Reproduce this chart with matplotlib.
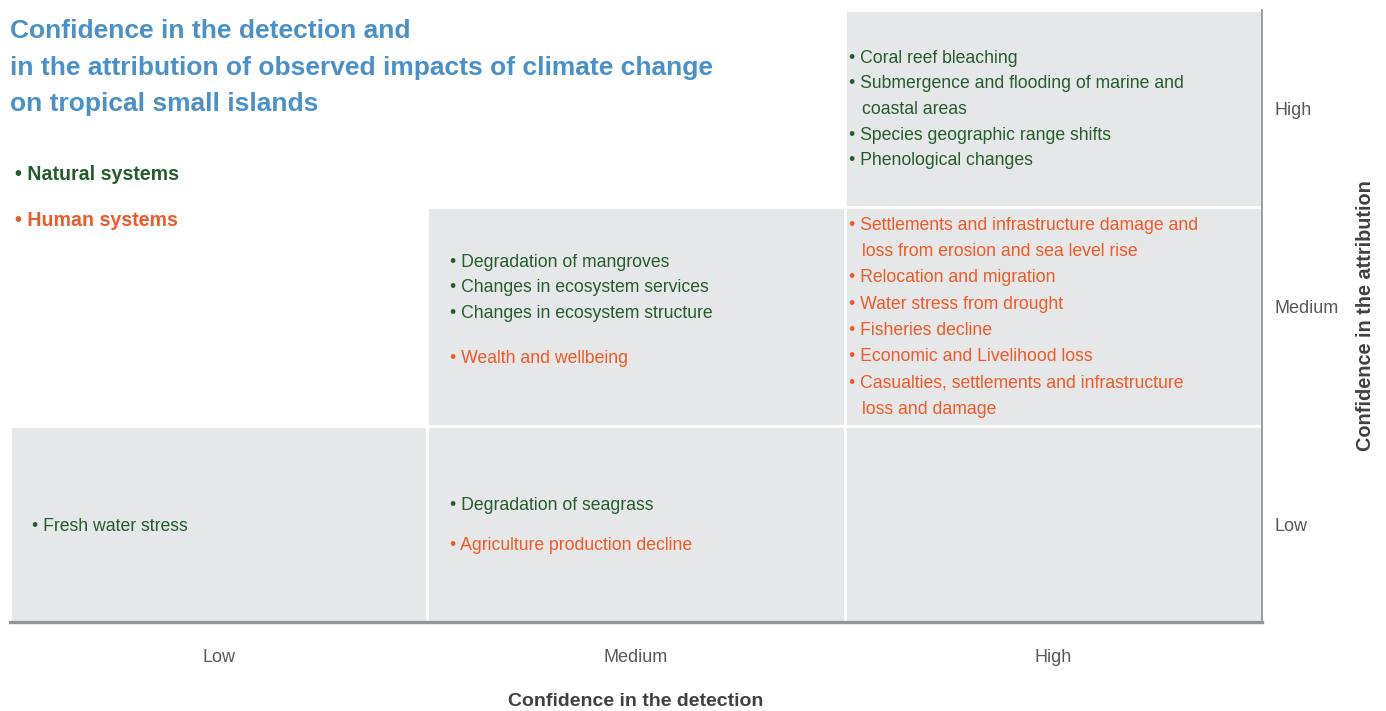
import matplotlib
matplotlib.use("Agg")
import matplotlib.pyplot as plt
from matplotlib.patches import Rectangle

# ---------------- data ----------------
detection_levels = ["Low", "Medium", "High"]
attribution_levels = ["Low", "Medium", "High"]
title_lines = ["Confidence in the detection and",
               "in the attribution of observed impacts of climate change",
               "on tropical small islands"]
x_label = "Confidence in the detection"
y_label = "Confidence in the attribution"
legend_labels = ["Natural systems", "Human systems"]

# cells filled (detection, attribution)
filled_cells = [("High", "High"),
                ("Medium", "Medium"), ("High", "Medium"),
                ("Low", "Low"), ("Medium", "Low"), ("High", "Low")]

# cell items: (lines, system)
cell_items = {
    ("High", "High"): [
        (["Coral reef bleaching"], "natural"),
        (["Submergence and flooding of marine and", "coastal areas"], "natural"),
        (["Species geographic range shifts"], "natural"),
        (["Phenological changes"], "natural"),
    ],
    ("High", "Medium"): [
        (["Settlements and infrastructure damage and", "loss from erosion and sea level rise"], "human"),
        (["Relocation and migration"], "human"),
        (["Water stress from drought"], "human"),
        (["Fisheries decline"], "human"),
        (["Economic and Livelihood loss"], "human"),
        (["Casualties, settlements and infrastructure", "loss and damage"], "human"),
    ],
    ("Medium", "Medium"): [
        (["Degradation of mangroves"], "natural"),
        (["Changes in ecosystem services"], "natural"),
        (["Changes in ecosystem structure"], "natural"),
        (["Wealth and wellbeing"], "human"),
    ],
    ("Medium", "Low"): [
        (["Degradation of seagrass"], "natural"),
        (["Agriculture production decline"], "human"),
    ],
    ("Low", "Low"): [
        (["Fresh water stress"], "natural"),
    ],
}

# ---------------- style / layout ----------------
FONT = ["Liberation Sans Narrow", "Liberation Sans", "DejaVu Sans"]
plt.rcParams["font.family"] = FONT
C_TITLE = "#4A90C9"
C_NAT = "#255C2D"
C_HUM = "#F05A28"
C_CELL = "#E6E7E8"
C_AXIS = "#939598"
C_TICK = "#58595B"
C_LAB = "#414042"
sys_color = {"natural": C_NAT, "human": C_HUM}

W, H = 1386, 711
fig = plt.figure(figsize=(W / 100, H / 100), dpi=100)
ax_l, ax_r, ax_t, ax_b = 10, 1262, 10, 622
ax = fig.add_axes([ax_l / W, 1 - ax_b / H, (ax_r - ax_l) / W, (ax_b - ax_t) / H])
ax.set_xlim(0, 3)
ax.set_ylim(0, 3)
row_edges = [0, 0.96, 2.035, 3.0]   # unequal row heights as in reference
px_per_unit = (ax_b - ax_t) / 3

for d, a in filled_cells:
    i = detection_levels.index(d)
    j = attribution_levels.index(a)
    ax.add_patch(Rectangle((i, row_edges[j]), 1, row_edges[j + 1] - row_edges[j],
                           facecolor=C_CELL, edgecolor="white", linewidth=2.0, zorder=1))

for s in ["top", "left"]:
    ax.spines[s].set_visible(False)
ax.spines["bottom"].set_color(C_AXIS)
ax.spines["bottom"].set_linewidth(2.4)
ax.spines["right"].set_color(C_AXIS)
ax.spines["right"].set_linewidth(1.3)
ax.spines["bottom"].set_zorder(5)
ax.spines["right"].set_zorder(5)

ax.set_xticks([i + 0.5 for i in range(3)])
ax.set_xticklabels(detection_levels, fontsize=13, color=C_TICK)
ax.tick_params(axis="x", length=0, pad=19.5)
ax.yaxis.tick_right()
ytick_nudge = [0, -10 / px_per_unit, 0]
ax.set_yticks([(row_edges[j] + row_edges[j + 1]) / 2 - ytick_nudge[j] for j in range(3)])
ax.set_yticklabels(attribution_levels, fontsize=13, color=C_TICK)
ax.tick_params(axis="y", length=0, pad=9)
ax.set_xlabel(x_label, fontsize=14, fontweight="bold", color=C_LAB, labelpad=19.5)
ax.yaxis.set_label_position("right")
ax.set_ylabel(y_label, fontsize=14.3, fontweight="bold", color=C_LAB, labelpad=12.5,
              rotation=90)

# cell text: offsets (px) from cell top-left: (dx, first line dy, line step, extra gap before human)
cell_layout = {
    ("High", "High"): (4, 48.5, 25.5, 0),
    ("High", "Medium"): (4, 18.5, 26.3, 0),
    ("Medium", "Medium"): (23, 55.5, 25.5, 19.5),
    ("Medium", "Low"): (23, 79.5, 25.5, 14.5),
    ("Low", "Low"): (22, 100, 25.5, 0),
}
for key, items in cell_items.items():
    d, a = key
    i = detection_levels.index(d)
    j = attribution_levels.index(a)
    x0, ytop = i, row_edges[j + 1]
    dx, dy, step, gap = cell_layout[key]
    y = dy
    prev = None
    for lines, sysname in items:
        if prev is not None and prev != sysname:
            y += gap
        for k, line in enumerate(lines):
            txt = ("• " + line) if k == 0 else line
            xoff = dx if k == 0 else dx + 13
            ax.annotate(txt, xy=(x0, ytop), xytext=(xoff, -y), textcoords="offset pixels",
                        ha="left", va="center", fontsize=12.7, color=sys_color[sysname],
                        zorder=6)
            y += step
        prev = sysname

# title and legend
for n, line in enumerate(title_lines):
    fig.text(10 / W, 1 - (30.5 + 37 * n) / H, line, ha="left", va="center", fontsize=19,
             fontweight="bold", color=C_TITLE)
fig.text(15 / W, 1 - 175 / H, "• " + legend_labels[0], ha="left", va="center",
         fontsize=14.1, fontweight="bold", color=C_NAT)
fig.text(15 / W, 1 - 220 / H, "• " + legend_labels[1], ha="left", va="center",
         fontsize=14.1, fontweight="bold", color=C_HUM)

fig.savefig("out.png", dpi=100, facecolor="white")
